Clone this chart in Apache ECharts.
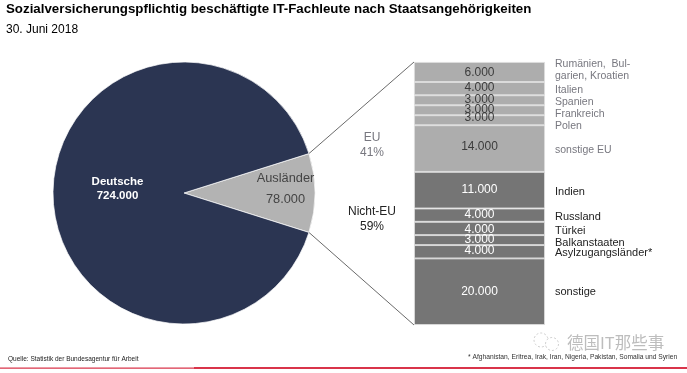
<!DOCTYPE html>
<html><head><meta charset="utf-8">
<style>html,body{margin:0;padding:0;background:#fff}#c{width:687px;height:373px}</style>
<script src="https://cdn.jsdelivr.net/npm/echarts@6/dist/echarts.min.js"></script>
</head><body><div id="c"></div>
<script>
var titleText = 'Sozialversicherungspflichtig beschäftigte IT-Fachleute nach Staatsangehörigkeiten';
var subtitleText = '30. Juni 2018';
var pieNames = ['Ausländer', 'Deutsche'];
var pieValues = [78000, 724000];
var stackNames = ['Rumänien,  Bul-\ngarien, Kroatien','Italien','Spanien','Frankreich','Polen','sonstige EU',
  'Indien','Russland','Türkei','Balkanstaaten','Asylzugangsländer*','sonstige'];
var stackValues = [6000,4000,3000,3000,3000,14000,11000,4000,4000,3000,4000,20000];
var groupOf = ['EU','EU','EU','EU','EU','EU','Nicht-EU','Nicht-EU','Nicht-EU','Nicht-EU','Nicht-EU','Nicht-EU'];
var groupShares = {EU:'41%', 'Nicht-EU':'59%'};
var sourceText = 'Quelle: Statistik der Bundesagentur für Arbeit';
var noteText = '* Afghanistan, Eritrea, Irak, Iran, Nigeria, Pakistan, Somalia und Syrien';
var watermarkText = '德国IT那些事';

// label nudges (layout only)
var valueNudge = [1,-1,-1,-1,-3,-2,0,0,1,0,-1,0];
var nameNudge = [-2,1,2,4,6,2,2,2,3,3,1,0];

var total = stackValues.reduce(function(a,b){return a+b;},0);
var font = '"Liberation Sans", Arial, sans-serif';
var pieCx = 184, pieCy = 193, pieR = 131;
var sliceDeg = pieValues[0]/(pieValues[0]+pieValues[1])*360;

var series = [{
  type:'pie', center:[pieCx,pieCy], radius:pieR, startAngle:sliceDeg/2, clockwise:true, silent:true, animation:false,
  data: pieNames.map(function(n,i){
    return {name:n, value:pieValues[i],
      itemStyle:{color:i===0?'#b3b3b3':'#2b3552', borderColor:'#ffffff', borderWidth:0.7},
      label:{color:i===0?'#444444':'#ffffff', lineHeight:i===0?21:14, fontSize:i===0?12.8:11.5,
        fontWeight:i===0?'normal':'bold'}};
  }),
  label:{show:true, position:'inner', fontFamily:font,
    formatter:function(p){return p.name+'\n'+p.value.toLocaleString('de-DE');}},
  labelLine:{show:false},
  labelLayout:function(p){ return p.dataIndex===0?{dx:16.5,dy:-2}:{dx:1,dy:-2}; }
}];

stackValues.forEach(function(v,i){
  var eu = groupOf[i]==='EU';
  series.push({
    type:'bar', stack:'values', name:stackNames[i], data:[v], animation:false, silent:true,
    barWidth:'100%', xAxisIndex:0, yAxisIndex:0,
    itemStyle:{color:eu?'#adadad':'#757575', borderColor:'#dcdcdc', borderWidth:0.9},
    label:{show:true, position:'inside', offset:[0,valueNudge[i]], fontFamily:font, fontSize:12,
      color:eu?'#3c3c3c':'#ffffff', formatter:function(p){return p.value.toLocaleString('de-DE');}}
  });
  series.push({
    type:'bar', stack:'names', name:stackNames[i]+' ', data:[v], animation:false, silent:true,
    barWidth:'100%', barGap:'-100%', xAxisIndex:0, yAxisIndex:0,
    itemStyle:{color:'transparent'},
    label:{show:true, position:'right', distance:10, offset:[0,nameNudge[i]], align:'left', fontFamily:font, fontSize:eu?10.5:11,
      lineHeight:12.5, color:eu?'#77777f':'#222222', formatter:function(){return stackNames[i];}}
  });
});

var chart = echarts.init(document.getElementById('c'), null, {renderer:'canvas'});
chart.setOption({
  animation:false,
  backgroundColor:'#ffffff',
  grid:{left:414, top:62, width:131, height:263, containLabel:false},
  xAxis:{type:'category', data:['IT'], show:false},
  yAxis:{type:'value', inverse:true, min:0, max:total, show:false},
  series:series,
  graphic:[]
});

function pt(v){ return chart.convertToPixel({xAxisIndex:0,yAxisIndex:0},['IT',v])[1]; }
var a = sliceDeg/2*Math.PI/180;
var sx = pieCx+pieR*Math.cos(a), dy = pieR*Math.sin(a);
function text(x,y,t,o){
  return {type:'text', x:x, y:y, silent:true, style:Object.assign({text:t, fontFamily:font, fill:'#000', textVerticalAlign:'middle'},o||{})};
}
var barLeft = 414;
chart.setOption({graphic:[
  {type:'line', silent:true, shape:{x1:sx,y1:pieCy-dy,x2:barLeft,y2:pt(0)}, style:{stroke:'#444',lineWidth:0.8}},
  {type:'line', silent:true, shape:{x1:sx,y1:pieCy+dy,x2:barLeft,y2:pt(total)}, style:{stroke:'#444',lineWidth:0.8}},
  text(6,9.5,titleText,{fontSize:13.3,fontWeight:'bold'}),
  text(6,29.5,subtitleText,{fontSize:12}),
  text(372,138,'EU',{fontSize:12,fill:'#77777f',textAlign:'center'}),
  text(372,153,groupShares.EU,{fontSize:12,fill:'#77777f',textAlign:'center'}),
  text(372,212,'Nicht-EU',{fontSize:12,fill:'#222',textAlign:'center'}),
  text(372,227,groupShares['Nicht-EU'],{fontSize:12,fill:'#222',textAlign:'center'}),
  text(8,359.5,sourceText,{fontSize:6.5,fill:'#222'}),
  text(468,357,noteText,{fontSize:6.7,fill:'#333'}),
  {type:'circle', silent:true, shape:{cx:541,cy:340,r:7}, style:{fill:'none',stroke:'#cfcfcf',lineWidth:1,lineDash:[2,2]}},
  {type:'circle', silent:true, shape:{cx:552,cy:344,r:6.5}, style:{fill:'#fff',stroke:'#cfcfcf',lineWidth:1,lineDash:[2,2]}},
  text(567,343,watermarkText,{fontSize:16.5,fill:'#bdbdbd',fontFamily:'"Noto Sans CJK SC", sans-serif'}),
  {type:'rect', silent:true, shape:{x:0,y:367.6,width:194,height:1.2}, style:{fill:'#d9344a'}},
  {type:'rect', silent:true, shape:{x:194,y:367,width:493,height:2}, style:{fill:'#d9344a'}}
]});
</script></body></html>
